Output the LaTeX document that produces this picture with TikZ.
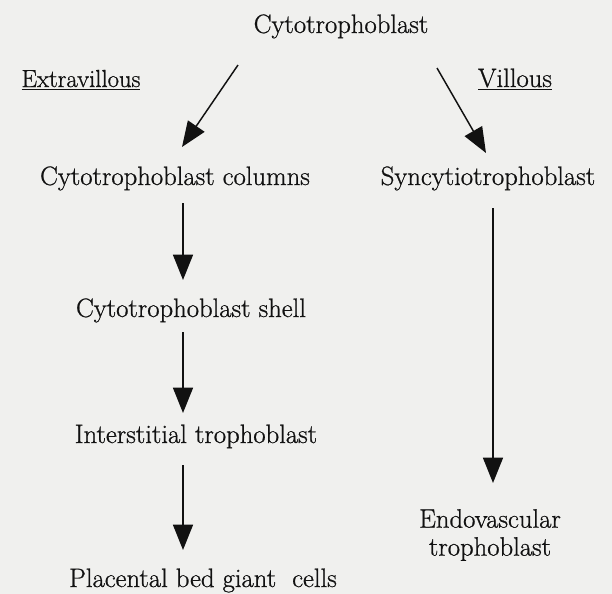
\documentclass[tikz,border=0pt]{standalone}
\usepackage{fontspec}
\usepackage{tikz}
\usetikzlibrary{arrows.meta,positioning}
\newfontfamily\scanfont{Latin Modern Roman}[FakeBold=0.8]
\definecolor{ScanGray}{HTML}{F0F0EE}
\definecolor{InkBlack}{HTML}{111111}

\begin{document}
\begin{tikzpicture}[x=0.75pt,y=-0.75pt,
 cell/.style={text=InkBlack,inner sep=0pt,anchor=base,font=\scanfont\fontsize{20}{21}\selectfont,align=center},
 side/.style={cell,font=\scanfont\fontsize{18.5}{20}\selectfont},
 arrow/.style={-{Triangle[length=19pt,width=15pt]},draw=InkBlack,line width=1.1pt}]
\fill[ScanGray] (0,0) rectangle (612,594);
\useasboundingbox (0,0) rectangle (612,594);
\node[cell] (cyto) at (341,33) {Cytotrophoblast};
\node[side] (extra) at (81,87) {\underline{Extravillous}};
\node[cell] (vill) at (515,87) {\underline{Villous}};
\node[cell] (cols) at (175,185) {Cytotrophoblast columns};
\node[cell] (sync) at (488,185) {Syncytiotrophoblast};
\node[cell] (shell) at (191,317) {Cytotrophoblast shell};
\node[cell] (inter) at (196,443) {Interstitial trophoblast};
\node[cell] (giant) at (203,587) {Placental bed giant\ \ cells};
\node[cell,anchor=center] (endo) at (490,535) {Endovascular\\trophoblast};
% first split
\draw[arrow] ([shift={(-103,32)}]cyto.base) -- ([shift={(7,-38)}]cols.base);
\draw[arrow] ([shift={(96,35)}]cyto.base) -- ([shift={(-2,-32)}]sync.base);
% extravillous path
\draw[arrow] ([shift={(8,18)}]cols.base) -- ([shift={(-8,-37)}]shell.base);
\draw[arrow] ([shift={(-8,15)}]shell.base) -- ([shift={(-13,-30)}]inter.base);
\draw[arrow] ([shift={(-13,22)}]inter.base) -- ([shift={(-20,-37)}]giant.base);
% villous path
\draw[arrow] ([shift={(5,23)}]sync.base) -- ([shift={(3,-52)}]endo.center);
\end{tikzpicture}
\end{document}
